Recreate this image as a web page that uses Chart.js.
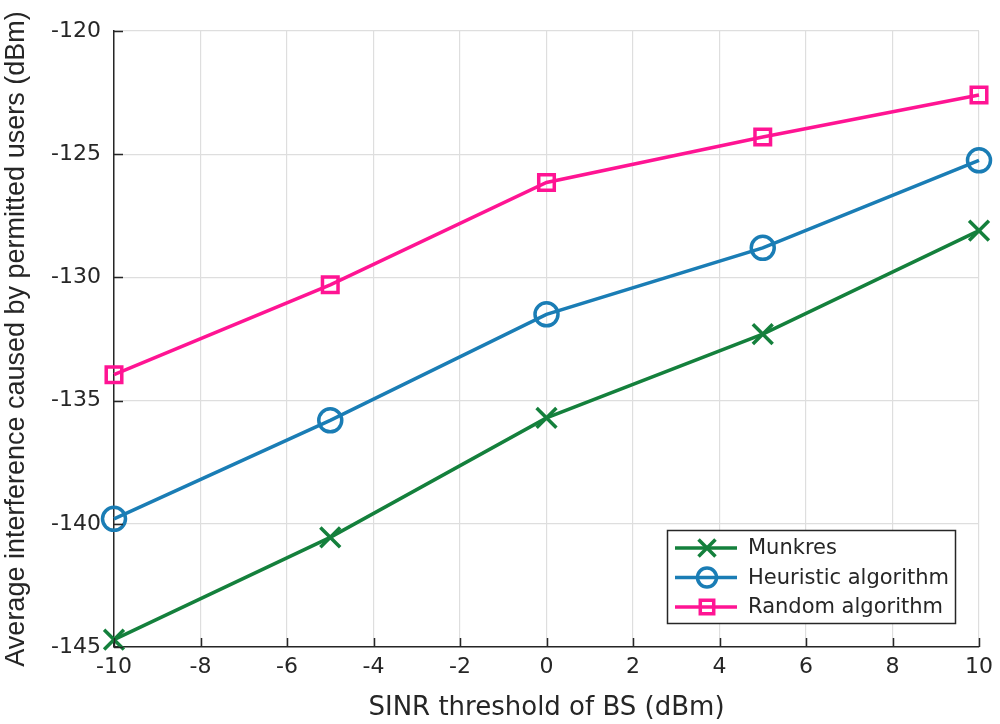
<!DOCTYPE html>
<html>
<head>
<meta charset="utf-8">
<script src="https://cdn.jsdelivr.net/npm/chart.js@4/dist/chart.umd.min.js"></script>
<style>
  html, body { margin: 0; padding: 0; background: #fff; }
  #wrap { width: 1000px; height: 724px; position: relative; }
</style>
</head>
<body>
<div id="wrap"><canvas id="c"></canvas></div>
<script>
const sinrThresholds = [-10, -5, 0, 5, 10];
const munkres   = [-144.7, -140.55, -135.7, -132.3, -128.1];
const heuristic = [-139.8, -135.8, -131.5, -128.8, -125.25];
const random    = [-133.95, -130.3, -126.15, -124.3, -122.6];
const seriesNames = ["Munkres", "Heuristic algorithm", "Random algorithm"];

const GREEN = "#14803c", BLUE = "#1a7db5", PINK = "#ff1493";
const FONT = "'Liberation Sans', Arial, sans-serif";
const WIDE = "'DejaVu Sans', sans-serif";

const toXY = ys => ys.map((y, i) => ({ x: sinrThresholds[i], y }));

// MATLAB-style inward ticks
const inwardTicks = {
  id: "inwardTicks",
  afterDraw(chart) {
    const { ctx, chartArea: a, scales: { x, y } } = chart;
    ctx.save();
    ctx.strokeStyle = "#262626";
    ctx.lineWidth = 1.5;
    ctx.beginPath();
    x.ticks.forEach(t => {
      const px = Math.round(x.getPixelForValue(t.value)) + 0.5;
      ctx.moveTo(px, a.bottom); ctx.lineTo(px, a.bottom - 9);
    });
    y.ticks.forEach(t => {
      const py = Math.round(y.getPixelForValue(t.value)) + 0.5;
      ctx.moveTo(a.left, py); ctx.lineTo(a.left + 9, py);
    });
    ctx.stroke();
    ctx.restore();
  }
};

// legend box in the lower right of the plot
const boxLegend = {
  id: "boxLegend",
  afterDraw(chart) {
    const { ctx } = chart;
    const bx = 667, by = 530, bw = 288, bh = 93, row = 29.5;
    ctx.save();
    ctx.fillStyle = "#fff";
    ctx.fillRect(bx, by, bw, bh);
    ctx.strokeStyle = "#262626";
    ctx.lineWidth = 1.5;
    ctx.strokeRect(bx + 0.5, by + 0.5, bw, bh);
    ctx.textBaseline = "middle";
    chart.data.datasets.forEach((ds, i) => {
      const cy = by + 18 + i * row;
      ctx.strokeStyle = ds.borderColor;
      ctx.lineWidth = 3.5;
      ctx.beginPath();
      ctx.moveTo(bx + 8, cy); ctx.lineTo(bx + 70, cy);
      ctx.stroke();
      ctx.fillStyle = "rgba(0,0,0,0)";
      Chart.helpers.drawPoint(ctx, {
        pointStyle: ds.pointStyle, radius: ds.legendRadius, borderWidth: 3.5
      }, bx + 40, cy);
      ctx.fillStyle = "#262626";
      ctx.font = "21px " + WIDE;
      ctx.fillText(ds.label, bx + 81, cy + 1);
    });
    ctx.restore();
  }
};

function makeSet(label, data, color, style, radius, legendRadius) {
  return {
    label, data: toXY(data),
    borderColor: color, backgroundColor: "rgba(0,0,0,0)",
    pointBorderColor: color, pointBackgroundColor: "rgba(0,0,0,0)",
    borderWidth: 3.5, pointBorderWidth: 3.5,
    pointStyle: style, pointRadius: radius, legendRadius,
    tension: 0, clip: false
  };
}

new Chart(document.getElementById("c"), {
  type: "line",
  data: {
    datasets: [
      makeSet(seriesNames[0], munkres, GREEN, "crossRot", 14, 12),
      makeSet(seriesNames[1], heuristic, BLUE, "circle", 11.5, 9.5),
      makeSet(seriesNames[2], random, PINK, "rect", 11, 9.5)
    ]
  },
  options: {
    responsive: true,
    maintainAspectRatio: false,
    animation: false,
    devicePixelRatio: 1,
    layout: { padding: { left: 0, top: 31, right: 16, bottom: 0 } },
    plugins: { legend: { display: false }, tooltip: { enabled: false } },
    scales: {
      x: {
        type: "linear", min: -10, max: 10,
        afterFit: s => { s.height = 77; },
        ticks: { stepSize: 2, padding: 7, color: "#262626", font: { family: WIDE, size: 22 } },
        grid: { color: "#dedede", lineWidth: 1.2, drawTicks: false },
        border: { color: "#262626", width: 1.5 },
        title: { display: true, text: "SINR threshold of BS (dBm)", color: "#262626",
                 font: { family: WIDE, size: 26 }, padding: { top: 0, bottom: 0 } }
      },
      y: {
        type: "linear", min: -145, max: -120,
        afterFit: s => { s.width = 114; },
        ticks: { stepSize: 5, padding: 13, color: "#262626", font: { family: WIDE, size: 22 } },
        grid: { color: "#dedede", lineWidth: 1.2, drawTicks: false },
        border: { color: "#262626", width: 1.5 },
        title: { display: true, text: "Average interference caused by permitted users (dBm)", color: "#262626",
                 font: { family: FONT, size: 27 }, padding: { top: 0, bottom: 0 } }
      }
    }
  },
  plugins: [inwardTicks, boxLegend]
});
</script>
</body>
</html>
